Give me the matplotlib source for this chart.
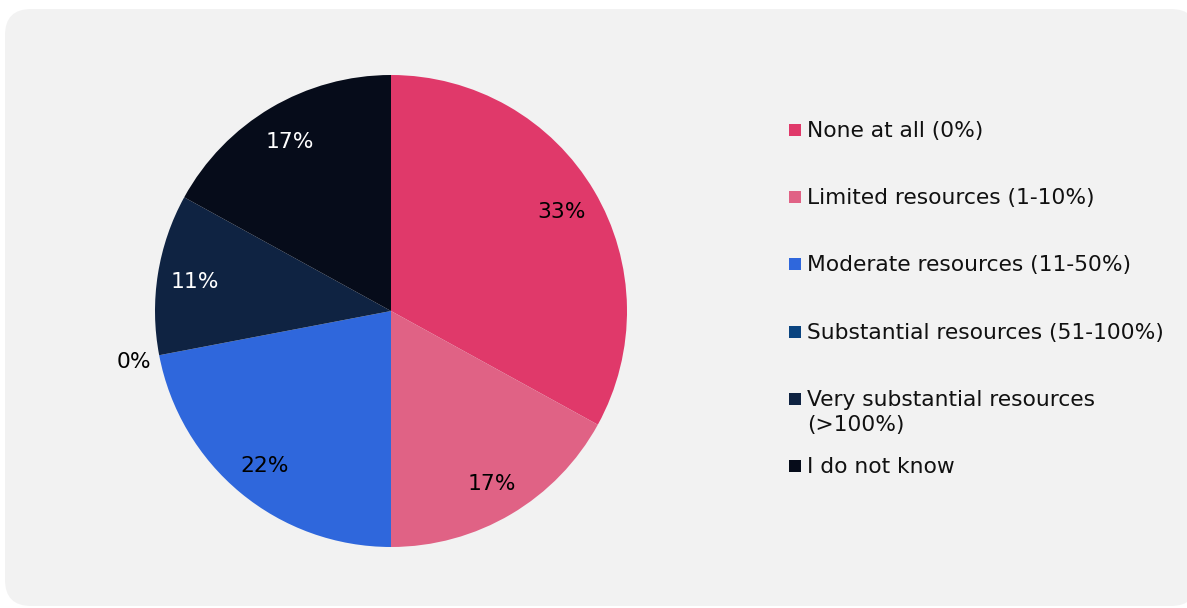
import numpy as np
import matplotlib
matplotlib.use("Agg")
import matplotlib.pyplot as plt
from matplotlib.patches import FancyBboxPatch, Rectangle

# chart data
categories = ['None at all (0%)', 'Limited resources (1-10%)', 'Moderate resources (11-50%)',
              'Substantial resources (51-100%)', 'Very substantial resources\n(>100%)', 'I do not know']
shares = [33, 17, 22, 0, 11, 17]
colors = ['#E0396A', '#E06285', '#2F67DC', '#0A4480', '#0F2342', '#060C1A']
label_colors = ['black', 'black', 'black', 'black', 'white', 'white']

W, H = 1187, 608
fig = plt.figure(figsize=(W / 100, H / 100), dpi=100)
fig.patch.set_facecolor('white')

# rounded grey panel behind everything (runs off the right edge)
bg = FancyBboxPatch((5 / W, 2 / H), 1192 / W, 597 / H,
                    boxstyle='round,pad=0,rounding_size=0.022',
                    transform=fig.transFigure, facecolor='#F2F2F2', edgecolor='none',
                    mutation_aspect=W / H, zorder=-5)
fig.patches.append(bg)

# pie axes: centre (391, 311), radius 236 px
cx, cy, r = 391, 311, 236
ax = fig.add_axes([(cx - r) / W, 1 - (cy + r) / H, 2 * r / W, 2 * r / H])
ax.set_facecolor('none')
ax.set_zorder(2)
wedges, _ = ax.pie(shares, colors=colors, startangle=90, counterclock=False, radius=1,
                   wedgeprops=dict(linewidth=0))
ax.set_xlim(-1, 1)
ax.set_ylim(-1, 1)
ax.set_aspect('equal')
ax.axis('off')

fs = 15.7
for w, val, lc in zip(wedges, shares, label_colors):
    mid = np.deg2rad((w.theta1 + w.theta2) / 2)
    dist = 0.84 if val > 0 else 1.11
    ax.text(dist * np.cos(mid), dist * np.sin(mid), f'{val}%', ha='center', va='center_baseline',
            color=lc, fontsize=fs, clip_on=False)

# legend drawn on the right
row0, step = 130, 67.2
box = 12
for i, (lab, col) in enumerate(zip(categories, colors)):
    yc = row0 + i * step
    fig.patches.append(Rectangle(((795 - box / 2) / W, 1 - (yc + box / 2) / H), box / W, box / H,
                                 transform=fig.transFigure, facecolor=col, edgecolor='none'))
    fig.text(807 / W, 1 - (yc - 9) / H, lab, ha='left', va='top', fontsize=fs,
             color='#111111', linespacing=1.32)

fig.savefig('out.png', dpi=100, facecolor='white')
